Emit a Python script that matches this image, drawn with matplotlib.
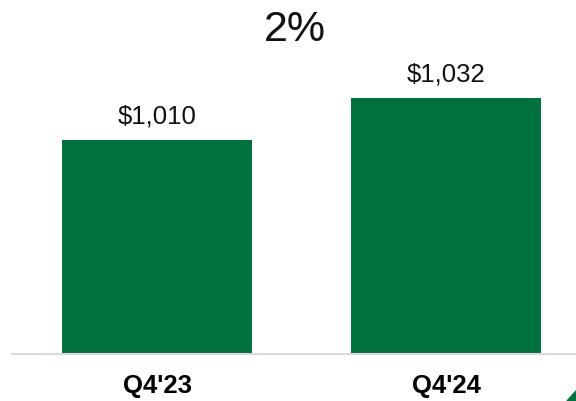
import matplotlib

matplotlib.use("Agg")
import matplotlib.pyplot as plt
from matplotlib.patches import Polygon

# Chart data
quarters = ["Q4'23", "Q4'24"]
values = [1010, 1032]
value_labels = ["$1,010", "$1,032"]
growth_label = "2%"

GREEN = "#00703C"

plt.rcParams["font.family"] = ["Liberation Sans", "DejaVu Sans"]

fig = plt.figure(figsize=(5.76, 4.02), dpi=100)
ax = fig.add_axes([12 / 576, 47 / 402, 564 / 576, 355 / 402])

x = list(range(len(quarters)))
ax.bar(x, values, width=0.657, color=GREEN, zorder=2)

# truncated value axis, as in the source slide
ax.set_ylim(898, 1084)
ax.set_xlim(-0.502, 1.45)

for xi, v, lab in zip(x, values, value_labels):
    ax.annotate(lab, (xi, v), xytext=(0, 9), textcoords="offset points",
                ha="center", va="bottom", fontsize=18.5, color="#111111")

for spine in ["top", "right", "left"]:
    ax.spines[spine].set_visible(False)
ax.spines["bottom"].set_color("#D9D9D9")
ax.spines["bottom"].set_linewidth(1.5)
ax.set_yticks([])
ax.set_xticks(x)
ax.set_xticklabels(quarters, fontsize=18.5, fontweight="bold")
ax.tick_params(axis="x", length=0, pad=14)

fig.text(295 / 576, 1 - 30 / 402, growth_label, ha="center", va="center",
         fontsize=31, color="#111111")

# corner decoration from the slide
corner = Polygon([[567 / 576, 0], [1, 10 / 402], [1, 0]], closed=True,
                 transform=fig.transFigure, color=GREEN)
fig.patches.append(corner)

fig.savefig("out.png", dpi=100)
